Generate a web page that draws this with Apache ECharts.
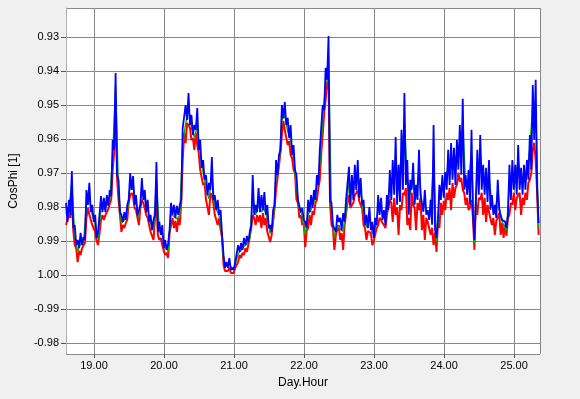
<!DOCTYPE html>
<html>
<head>
<meta charset="utf-8">
<script src="https://cdn.jsdelivr.net/npm/echarts@6/dist/echarts.min.js"></script>
<style>
html,body{margin:0;padding:0;background:#f0f0f0;}
#c{width:580px;height:399px;}
</style>
</head>
<body>
<div id="c"></div>
<script>
// Sampling grid: hourly samples (Day.Hour axis, 1 unit = 1 day); in-between readings at the half hour
const startDay = 18.6;
const stepDay = 1 / 24;

// blue phase: hourly readings (upper excursions on screen)
const phaseBlue = [
0.9788,0.9779,0.9694,0.9853,0.9897,0.9876,0.9888,0.9750,0.9729,0.9794,
0.9823,0.9873,0.9768,0.9773,0.9765,0.9750,0.9603,0.9406,0.9720,0.9823,
0.9815,0.9794,0.9700,0.9709,0.9765,0.9809,0.9715,0.9750,0.9779,0.9823,
0.9838,0.9668,0.9844,0.9853,0.9897,0.9909,0.9788,0.9794,0.9797,0.9794,
0.9568,0.9500,0.9465,0.9529,0.9559,0.9509,0.9603,0.9662,0.9706,0.9729,
0.9653,0.9765,0.9779,0.9809,0.9941,0.9962,0.9950,0.9979,0.9962,0.9912,
0.9906,0.9891,0.9885,0.9873,0.9706,0.9794,0.9744,0.9765,0.9756,0.9794,
0.9853,0.9809,0.9662,0.9647,0.9500,0.9491,0.9538,0.9559,0.9618,0.9706,
0.9779,0.9803,0.9844,0.9779,0.9765,0.9750,0.9706,0.9632,0.9500,0.9391,
0.9297,0.9788,0.9853,0.9823,0.9832,0.9818,0.9779,0.9682,0.9706,0.9676,
0.9662,0.9715,0.9779,0.9823,0.9800,0.9844,0.9832,0.9765,0.9773,0.9809,
0.9765,0.9691,0.9662,0.9594,0.9676,0.9573,0.9465,0.9662,0.9720,0.9670,
0.9735,0.9632,0.9765,0.9750,0.9809,0.9779,0.9559,0.9891,0.9735,0.9706,
0.9697,0.9632,0.9612,0.9626,0.9603,0.9559,0.9482,0.9706,0.9691,0.9573,
0.9897,0.9632,0.9588,0.9676,0.9685,0.9662,0.9765,0.9794,0.9720,0.9809,
0.9838,0.9862,0.9676,0.9662,0.9676,0.9618,0.9685,0.9676,0.9662,0.9588,
0.9441,0.9426,0.9847
];
// blue phase: half-hour readings (lower excursions)
const phaseBlueHalf = [
0.9844,0.9823,0.9862,0.9912,0.9920,0.9912,0.9897,0.9794,0.9815,0.9844,
0.9891,0.9868,0.9815,0.9815,0.9797,0.9768,0.9632,0.9706,0.9815,0.9844,
0.9838,0.9779,0.9750,0.9794,0.9823,0.9794,0.9779,0.9815,0.9844,0.9868,
0.9823,0.9873,0.9882,0.9920,0.9926,0.9868,0.9823,0.9832,0.9823,0.9779,
0.9573,0.9544,0.9559,0.9588,0.9573,0.9632,0.9685,0.9720,0.9765,0.9750,
0.9779,0.9809,0.9823,0.9882,0.9979,0.9979,0.9985,0.9985,0.9962,0.9932,
0.9926,0.9912,0.9903,0.9853,0.9823,0.9815,0.9815,0.9809,0.9823,0.9862,
0.9873,0.9794,0.9706,0.9632,0.9538,0.9559,0.9597,0.9647,0.9691,0.9779,
0.9815,0.9838,0.9862,0.9815,0.9803,0.9779,0.9735,0.9632,0.9515,0.9426,
0.9779,0.9853,0.9873,0.9844,0.9868,0.9844,0.9779,0.9794,0.9779,0.9750,
0.9773,0.9794,0.9853,0.9862,0.9868,0.9891,0.9853,0.9823,0.9838,0.9853,
0.9809,0.9779,0.9764,0.9793,0.9785,0.9749,0.9735,0.9823,0.9749,0.9793,
0.9779,0.9764,0.9814,0.9823,0.9838,0.9852,0.9867,0.9838,0.9779,0.9773,
0.9749,0.9735,0.9720,0.9735,0.9690,0.9705,0.9749,0.9764,0.9793,0.9823,
0.9779,0.9764,0.9749,0.9764,0.9785,0.9808,0.9823,0.9832,0.9808,0.9838,
0.9843,0.9823,0.9779,0.9749,0.9764,0.9749,0.9764,0.9749,0.9720,0.9690,
0.9602,0.9749
];

// red phase: hourly readings (lower excursions on screen)
const phaseRed = [
0.9853,0.9823,0.9765,0.9912,0.9962,0.9941,0.9926,0.9832,0.9823,0.9853,
0.9873,0.9912,0.9838,0.9838,0.9823,0.9803,0.9691,0.9485,0.9779,0.9873,
0.9862,0.9838,0.9765,0.9768,0.9809,0.9853,0.9779,0.9803,0.9832,0.9873,
0.9897,0.9779,0.9897,0.9912,0.9941,0.9950,0.9853,0.9862,0.9873,0.9853,
0.9662,0.9612,0.9559,0.9603,0.9632,0.9618,0.9691,0.9735,0.9779,0.9823,
0.9765,0.9823,0.9853,0.9868,0.9970,0.9985,0.9979,0.9991,0.9979,0.9962,
0.9950,0.9941,0.9932,0.9912,0.9823,0.9853,0.9844,0.9862,0.9853,0.9873,
0.9903,0.9882,0.9750,0.9720,0.9588,0.9573,0.9618,0.9647,0.9691,0.9779,
0.9832,0.9853,0.9918,0.9862,0.9853,0.9823,0.9779,0.9720,0.9588,0.9485,
0.9426,0.9853,0.9926,0.9882,0.9897,0.9926,0.9853,0.9765,0.9794,0.9765,
0.9750,0.9794,0.9853,0.9897,0.9868,0.9912,0.9897,0.9853,0.9838,0.9853,
0.9823,0.9779,0.9844,0.9823,0.9882,0.9809,0.9765,0.9853,0.9868,0.9794,
0.9868,0.9809,0.9868,0.9897,0.9844,0.9882,0.9912,0.9932,0.9862,0.9823,
0.9809,0.9779,0.9809,0.9773,0.9735,0.9726,0.9750,0.9794,0.9809,0.9779,
0.9926,0.9823,0.9779,0.9823,0.9844,0.9815,0.9853,0.9882,0.9832,0.9882,
0.9891,0.9885,0.9823,0.9794,0.9809,0.9773,0.9823,0.9794,0.9779,0.9720,
0.9632,0.9662,0.9882
];
// red phase: half-hour readings (upper excursions)
const phaseRedHalf = [
0.9853,0.9832,0.9871,0.9921,0.9929,0.9921,0.9906,0.9803,0.9824,0.9853,
0.9900,0.9877,0.9824,0.9824,0.9806,0.9777,0.9641,0.9715,0.9824,0.9853,
0.9847,0.9788,0.9759,0.9803,0.9832,0.9803,0.9788,0.9824,0.9853,0.9877,
0.9832,0.9882,0.9891,0.9929,0.9935,0.9877,0.9832,0.9841,0.9832,0.9788,
0.9582,0.9553,0.9568,0.9597,0.9582,0.9641,0.9694,0.9729,0.9774,0.9759,
0.9788,0.9818,0.9832,0.9891,0.9988,0.9988,0.9994,0.9994,0.9971,0.9941,
0.9935,0.9921,0.9912,0.9862,0.9832,0.9824,0.9824,0.9818,0.9832,0.9871,
0.9882,0.9803,0.9715,0.9641,0.9547,0.9568,0.9606,0.9656,0.9700,0.9788,
0.9824,0.9847,0.9871,0.9824,0.9812,0.9788,0.9744,0.9641,0.9524,0.9435,
0.9788,0.9862,0.9882,0.9853,0.9877,0.9853,0.9788,0.9803,0.9788,0.9759,
0.9782,0.9803,0.9862,0.9871,0.9877,0.9900,0.9862,0.9832,0.9847,0.9862,
0.9818,0.9788,0.9773,0.9802,0.9794,0.9758,0.9744,0.9832,0.9758,0.9802,
0.9788,0.9773,0.9823,0.9832,0.9847,0.9861,0.9876,0.9847,0.9788,0.9782,
0.9758,0.9744,0.9729,0.9744,0.9699,0.9714,0.9758,0.9773,0.9802,0.9832,
0.9788,0.9773,0.9758,0.9773,0.9794,0.9817,0.9832,0.9841,0.9817,0.9847,
0.9852,0.9832,0.9788,0.9758,0.9773,0.9758,0.9773,0.9758,0.9729,0.9699,
0.9611,0.9758
];

// green phase: hourly readings
const phaseGreen = [
0.9820,0.9801,0.9730,0.9883,0.9930,0.9909,0.9907,0.9791,0.9776,0.9824,
0.9848,0.9893,0.9803,0.9806,0.9794,0.9777,0.9647,0.9446,0.9750,0.9848,
0.9839,0.9816,0.9733,0.9739,0.9787,0.9831,0.9747,0.9777,0.9806,0.9848,
0.9868,0.9724,0.9871,0.9883,0.9919,0.9930,0.9820,0.9828,0.9835,0.9824,
0.9615,0.9556,0.9512,0.9566,0.9596,0.9564,0.9647,0.9699,0.9743,0.9776,
0.9709,0.9794,0.9816,0.9839,0.9956,0.9974,0.9965,0.9985,0.9971,0.9937,
0.9928,0.9916,0.9909,0.9893,0.9765,0.9824,0.9794,0.9814,0.9805,0.9834,
0.9878,0.9846,0.9706,0.9684,0.9544,0.9532,0.9578,0.9603,0.9655,0.9743,
0.9806,0.9828,0.9881,0.9821,0.9809,0.9787,0.9743,0.9676,0.9544,0.9438,
0.9362,0.9820,0.9890,0.9853,0.9865,0.9872,0.9816,0.9724,0.9750,0.9721,
0.9706,0.9755,0.9816,0.9860,0.9834,0.9878,0.9865,0.9809,0.9806,0.9831,
0.9794,0.9735,0.9717,0.9663,0.9738,0.9644,0.9555,0.9719,0.9764,0.9707,
0.9775,0.9685,0.9796,0.9794,0.9820,0.9810,0.9665,0.9903,0.9773,0.9741,
0.9731,0.9676,0.9671,0.9670,0.9643,0.9609,0.9562,0.9732,0.9726,0.9635,
0.9906,0.9689,0.9645,0.9720,0.9733,0.9708,0.9791,0.9820,0.9754,0.9831,
0.9854,0.9869,0.9720,0.9702,0.9716,0.9665,0.9726,0.9711,0.9697,0.9628,
0.9498,0.9497,0.9858
];

// Y tick labels: the axis runs past 1.00 and wraps to negative cos phi
const yLabelMap = {
  '0.93':'0.93','0.94':'0.94','0.95':'0.95','0.96':'0.96','0.97':'0.97',
  '0.98':'0.98','0.99':'0.99','1.00':'1.00','1.01':'-0.99','1.02':'-0.98'
};

function merge(hourly, half){
  const out = [];
  for (let i = 0; i < hourly.length; i++){
    out.push([startDay + i*stepDay, hourly[i]]);
    if (half && i < half.length) out.push([startDay + (i + 0.5)*stepDay, half[i]]);
  }
  return out;
}

const font = 'Liberation Sans, Arial, sans-serif';
const chart = echarts.init(document.getElementById('c'));
chart.setOption({
  animation:false,
  backgroundColor:'#f0f0f0',
  grid:{left:64, top:8, width:476, height:346, show:true, backgroundColor:'#ffffff', borderWidth:0},
  xAxis:{
    type:'value', min:18.6, max:25.37, splitNumber:6,
    name:'Day.Hour', nameLocation:'middle', nameGap:23,
    nameTextStyle:{fontFamily:font, fontSize:12, color:'#000'},
    axisLine:{show:false},
    axisTick:{show:true, length:4, lineStyle:{color:'#555'}},
    axisLabel:{fontFamily:font, fontSize:11, color:'#000', margin:6, showMinLabel:false, showMaxLabel:false,
      formatter:v=>v.toFixed(2)},
    splitLine:{show:true, lineStyle:{color:'#888', width:1}}
  },
  yAxis:{
    type:'value', inverse:true, min:0.92147, max:1.02324, splitNumber:10,
    name:'CosPhi [1]', nameLocation:'middle', nameGap:46, nameRotate:90,
    nameTextStyle:{fontFamily:font, fontSize:12, color:'#000'},
    axisLine:{show:true, lineStyle:{color:'#b0b0b0'}},
    axisTick:{show:true, length:5, lineStyle:{color:'#555'}},
    axisLabel:{fontFamily:font, fontSize:11, color:'#000', margin:7, showMinLabel:false, showMaxLabel:false,
      formatter:v=>{ const k=v.toFixed(2); return yLabelMap[k]!==undefined?yLabelMap[k]:''; }},
    splitLine:{show:true, lineStyle:{color:'#888', width:1}}
  },
  series:[
    {type:'line', data:merge(phaseRed, phaseRedHalf), showSymbol:false, lineStyle:{color:'#ff0000', width:2}, z:2},
    {type:'line', data:merge(phaseGreen, null), showSymbol:false, lineStyle:{color:'#00b400', width:1.4}, z:3},
    {type:'line', data:merge(phaseBlue, phaseBlueHalf), showSymbol:false, lineStyle:{color:'#0000ff', width:1.8}, z:4}
  ]
});
</script>
</body>
</html>
